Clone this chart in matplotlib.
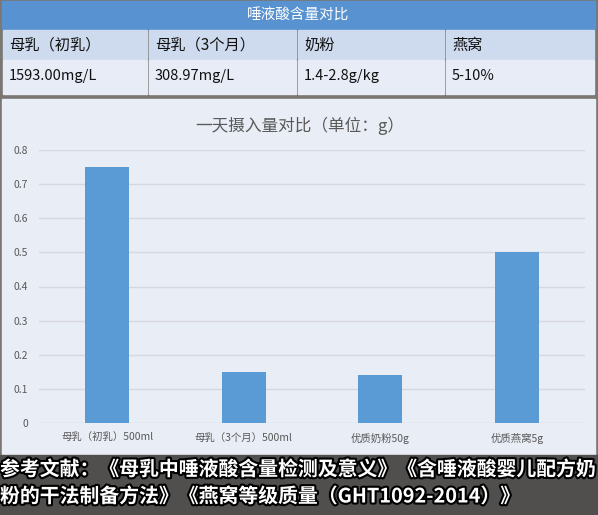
import matplotlib.pyplot as plt
import matplotlib.patheffects as pe
from matplotlib.patches import Rectangle

plt.rcParams['font.family'] = ['Noto Sans CJK SC', 'DejaVu Sans']

# table data
table_title = "唾液酸含量对比"
table_heads = ["母乳（初乳）", "母乳（3个月）", "奶粉", "燕窝"]
table_vals = ["1593.00mg/L", "308.97mg/L", "1.4-2.8g/kg", "5-10%"]

# chart data
chart_title = "一天摄入量对比（单位：g）"
categories = ["母乳（初乳）500ml", "母乳（3个月）500ml", "优质奶粉50g", "优质燕窝5g"]
amounts = [0.75, 0.15, 0.14, 0.5]
yticks = [0, 0.1, 0.2, 0.3, 0.4, 0.5, 0.6, 0.7, 0.8]

caption = ["参考文献：《母乳中唾液酸含量检测及意义》《含唾液酸婴儿配方奶",
           "粉的干法制备方法》《燕窝等级质量（GHT1092-2014）》"]

W, H = 598, 515
fig = plt.figure(figsize=(W / 100, H / 100), dpi=100, facecolor="#7a7672")

# background layer in pixel coordinates
bg = fig.add_axes([0, 0, 1, 1])
bg.set_xlim(0, W)
bg.set_ylim(H, 0)
bg.axis("off")

# table
col_x = [2, 148, 297, 445, 595]
bg.add_patch(Rectangle((2, 1), 593, 28, color="#5892d0"))
bg.text(298, 15, table_title, color="white", fontsize=10.5, ha="center", va="center")
for i in range(4):
    x0, x1 = col_x[i], col_x[i + 1]
    bg.add_patch(Rectangle((x0 + 1, 30), x1 - x0 - 2, 29, color="#cedaed"))
    bg.add_patch(Rectangle((x0 + 1, 60), x1 - x0 - 2, 34, color="#e7ecf6"))
    bg.text(x0 + 7, 45, table_heads[i], fontsize=11, color="#111111", va="center")
    bg.text(x0 + 7, 76, table_vals[i], fontsize=10.5, color="#111111", va="center")

# chart panel and caption band
bg.add_patch(Rectangle((2, 99), 593, 356, color="#e9edf6"))
bg.add_patch(Rectangle((0, 455), W, 60, color="#504f4e"))
bg.text(300, 126, chart_title, fontsize=12, color="#595959", ha="center", va="center")

stroke = [pe.Stroke(linewidth=3, foreground="black"), pe.Normal()]
for k, line in enumerate(caption):
    bg.text(0, 469 + k * 27, line, fontsize=14.3, fontweight="bold", color="white",
            va="center", ha="left", path_effects=stroke)

# bar chart
ax = fig.add_axes([39 / W, (H - 423) / H, 546 / W, 273 / H])
ax.set_facecolor("none")
ax.bar(range(len(amounts)), amounts, width=0.32, color="#5b9bd5", zorder=3)
ax.set_xlim(-0.5, len(amounts) - 0.5)
ax.set_ylim(0, 0.8)
ax.set_yticks(yticks)
ax.set_yticklabels(["0" if v == 0 else f"{v:.1f}" for v in yticks])
ax.set_xticks(range(len(categories)))
ax.set_xticklabels(categories)
ax.tick_params(axis="both", length=0, labelsize=7.5, colors="#595959")
ax.tick_params(axis="y", pad=8)
ax.tick_params(axis="x", pad=7)
ax.grid(axis="y", color="#d6d8dc", linewidth=1, zorder=0)
for s in ax.spines.values():
    s.set_visible(False)

fig.savefig("out.png", dpi=100, facecolor=fig.get_facecolor())
